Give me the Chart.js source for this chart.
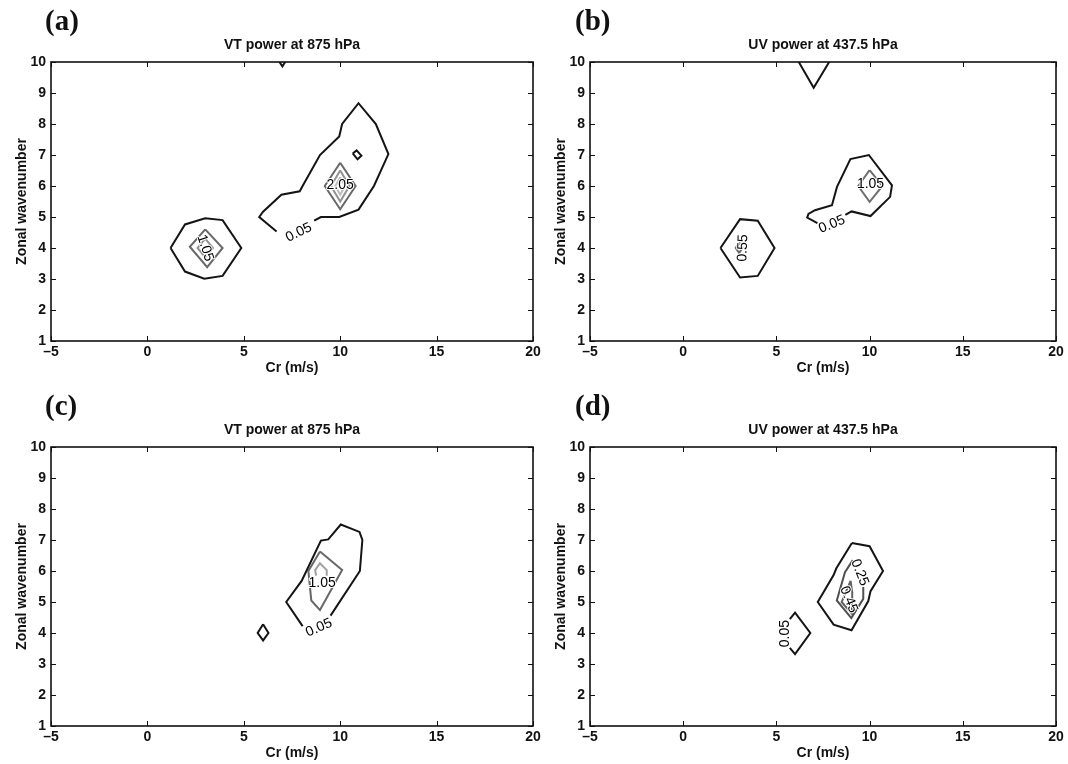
<!DOCTYPE html>
<html>
<head>
<meta charset="utf-8">
<script src="https://cdn.jsdelivr.net/npm/chart.js@4.4.0/dist/chart.umd.min.js"></script>
<style>
  body { margin: 0; background: #fff; width: 1068px; height: 764px; position: relative; overflow: hidden; }
  canvas { position: absolute; }
</style>
</head>
<body>
<canvas id="panelA" width="545" height="382" style="left:0;top:0"></canvas>
<canvas id="panelB" width="523" height="382" style="left:545px;top:0"></canvas>
<canvas id="panelC" width="545" height="379" style="left:0;top:385px"></canvas>
<canvas id="panelD" width="523" height="379" style="left:545px;top:385px"></canvas>
<script>
// axes
const xTicks = [-5, 0, 5, 10, 15, 20];
const yTicks = [1, 2, 3, 4, 5, 6, 7, 8, 9, 10];
const titles = ['VT power at 875 hPa', 'UV power at 437.5 hPa', 'VT power at 875 hPa', 'UV power at 437.5 hPa'];

// (a) contour paths, [Cr, wavenumber]
const aTopNotch = [[6.85, 10], [7, 9.86], [7.15, 10]];
const aWestRing = [[1.2, 4], [1.95, 4.76], [3, 4.96], [3.9, 4.9], [4.87, 4], [3.9, 3.1], [2.95, 3.01], [1.95, 3.24], [1.2, 4]];
const aWestMid = [[3, 4.6], [3.9, 4], [3.1, 3.38], [2.2, 4.04], [3, 4.6]];
const aWestCore = [[3, 4.3], [3.4, 4], [3, 3.7], [2.6, 4], [3, 4.3]];
const aEastBand = [[6.7, 4.53], [5.8, 5], [6, 5.17], [6.95, 5.72], [7.9, 5.83], [8.05, 6], [8.95, 7], [9.95, 7.6],
                   [10.1, 8], [10.95, 8.67], [11.85, 8], [12.5, 7.03], [11.75, 6], [10.95, 5.24], [9.95, 5], [9, 5], [8.65, 4.88]];
const aEastDot = [[10.65, 7.05], [10.85, 7.15], [11.1, 6.98], [10.9, 6.86], [10.65, 7.05]];
const aEastOuter = [[10, 6.75], [10.8, 6], [10, 5.25], [9.2, 6], [10, 6.75]];
const aEastMid = [[10, 6.5], [10.48, 6], [10, 5.5], [9.52, 6], [10, 6.5]];
const aEastCore = [[10, 6.28], [10.25, 6], [10, 5.72], [9.75, 6], [10, 6.28]];

// (b)
const bTopNotch = [[6.2, 10], [7, 9.17], [7.83, 10]];
const bWestRing = [[2, 4], [3.05, 4.93], [4, 4.88], [4.9, 4], [4, 3.1], [3.05, 3.05], [2, 4]];
const bWestCore = [[3, 4.18], [3.18, 4], [3, 3.84], [2.82, 4], [3, 4.18]];
const bEastBand = [[7.2, 4.8], [6.65, 4.98], [6.72, 5.1], [7.07, 5.22], [7.98, 5.38], [8.25, 5.97], [8.97, 6.87],
                   [9.96, 7], [11.2, 6.02], [11.1, 5.65], [10.05, 5.03], [9.03, 5.18], [8.7, 5.07]];
const bEastCore = [[10, 6.51], [10.69, 6], [10, 5.49], [9.39, 6], [10, 6.51]];

// (c)
const cDot = [[6, 4.28], [6.28, 4], [6, 3.76], [5.72, 4], [6, 4.28]];
const cBand = [[8.05, 4.22], [7.2, 5], [8, 5.68], [9, 6.98], [9.38, 7.02], [10.03, 7.5], [11, 7.26], [11.15, 7],
               [11.02, 6], [9.5, 4.56]];
const cMid = [[8.95, 6.63], [10.1, 6.03], [8.95, 4.74], [8.5, 5.05], [8.35, 6], [8.95, 6.63]];
const cCore = [[8.75, 5.85], [8.7, 6.03], [8.95, 6.25], [9.3, 6.03], [9.3, 5.85]];

// (d)
const dWestWedge = [[5.72, 4.45], [6, 4.66], [6.82, 4], [6, 3.32], [5.72, 3.52]];
const dBand = [[9.05, 6.9], [10, 6.8], [10.72, 6], [10.05, 5.35], [9.93, 5.03], [9.03, 4.09], [8.07, 4.27],
               [7.22, 5], [8.07, 5.87], [8.21, 6.08], [9.05, 6.9]];
const dMid = [[9.1, 6.35], [8.68, 5.96], [8.24, 5.05], [9.02, 4.48], [9.66, 5.1], [9.66, 5.48]];
const dCore = [[8.98, 5.68], [9.07, 5.3], [9.05, 4.62], [8.5, 5], [8.98, 5.68]];

const panels = [
  {
    id: 'panelA', letter: '(a)', title: titles[0], letterX: 45,
    axisW: 51, axisH: 41, padRight: 12, yTitlePad: 13.6, xTitlePad: 5,
    shades: { 0.05: '#141414', 1.05: '#686868', 1.55: '#929292', 2.05: '#bcbcbc' },
    lines: [[0.05, aTopNotch], [0.05, aWestRing], [1.05, aWestMid], [1.55, aWestCore],
            [0.05, aEastBand], [0.05, aEastDot], [1.05, aEastOuter], [1.55, aEastMid], [2.05, aEastCore]],
    labels: [{ level: 1.05, x: 3, y: 4, rot: 72 }, { level: 0.05, x: 7.85, y: 4.5, rot: -26 },
             { level: 2.05, x: 10, y: 6.02, rot: 0 }]
  },
  {
    id: 'panelB', letter: '(b)', title: titles[1], letterX: 30,
    axisW: 45, axisH: 41, padRight: 12, yTitlePad: 7.6, xTitlePad: 5,
    shades: { 0.05: '#141414', 0.55: '#686868', 1.05: '#707070' },
    lines: [[0.05, bTopNotch], [0.05, bWestRing], [0.55, bWestCore], [0.05, bEastBand], [1.05, bEastCore]],
    labels: [{ level: 0.55, x: 3.2, y: 4, rot: -88 }, { level: 0.05, x: 7.98, y: 4.76, rot: -22 },
             { level: 1.05, x: 10.05, y: 6.05, rot: 0 }]
  },
  {
    id: 'panelC', letter: '(c)', title: titles[2], letterX: 45,
    axisW: 51, axisH: 38, padRight: 12, yTitlePad: 13.6, xTitlePad: 2,
    shades: { 0.05: '#141414', 1.05: '#686868', 1.55: '#a0a0a0' },
    lines: [[0.05, cDot], [0.05, cBand], [1.05, cMid], [1.55, cCore]],
    labels: [{ level: 1.05, x: 9.06, y: 5.6, rot: 0 }, { level: 0.05, x: 8.9, y: 4.17, rot: -24 }]
  },
  {
    id: 'panelD', letter: '(d)', title: titles[3], letterX: 30,
    axisW: 45, axisH: 38, padRight: 12, yTitlePad: 7.6, xTitlePad: 2,
    shades: { 0.05: '#141414', 0.25: '#505050', 0.45: '#626262' },
    lines: [[0.05, dWestWedge], [0.05, dBand], [0.25, dMid], [0.45, dCore]],
    labels: [{ level: 0.05, x: 5.45, y: 3.98, rot: -90 }, { level: 0.25, x: 9.47, y: 5.95, rot: 68 },
             { level: 0.45, x: 8.88, y: 5.08, rot: 68 }]
  }
];

const sansFont = '"Liberation Sans", Arial, Helvetica, sans-serif';

// box, inward ticks, titles and inline contour labels
const contourFrame = {
  id: 'contourFrame',
  afterDatasetsDraw(chart, args, opts) {
    const { ctx, scales: { x, y } } = chart;
    ctx.save();
    ctx.font = '14px ' + sansFont;
    ctx.textAlign = 'center';
    ctx.textBaseline = 'middle';
    ctx.lineJoin = 'round';
    opts.labels.forEach(l => {
      const text = l.level.toFixed(2);
      ctx.save();
      ctx.translate(x.getPixelForValue(l.x), y.getPixelForValue(l.y));
      ctx.rotate(l.rot * Math.PI / 180);
      ctx.strokeStyle = '#fff';
      ctx.lineWidth = 2;
      ctx.strokeText(text, 0, 0);
      ctx.fillStyle = '#000';
      ctx.fillText(text, 0, 0);
      ctx.restore();
    });
    ctx.restore();
  },
  afterDraw(chart, args, opts) {
    const { ctx, chartArea: a, scales: { x, y } } = chart;
    ctx.save();
    ctx.strokeStyle = '#111';
    ctx.lineWidth = 1;
    ctx.beginPath();
    xTicks.forEach(v => {
      const px = Math.round(x.getPixelForValue(v)) + 0.5;
      ctx.moveTo(px, a.bottom); ctx.lineTo(px, a.bottom - 5);
      ctx.moveTo(px, a.top); ctx.lineTo(px, a.top + 5);
    });
    yTicks.forEach(v => {
      const py = Math.round(y.getPixelForValue(v)) + 0.5;
      ctx.moveTo(a.left, py); ctx.lineTo(a.left + 5, py);
      ctx.moveTo(a.right, py); ctx.lineTo(a.right - 5, py);
    });
    ctx.stroke();
    ctx.lineWidth = 1.6;
    ctx.strokeRect(a.left, a.top, a.right - a.left, a.bottom - a.top);

    ctx.fillStyle = '#111';
    ctx.textAlign = 'center';
    ctx.textBaseline = 'middle';
    ctx.font = 'bold 14px ' + sansFont;
    ctx.fillText(opts.title, (a.left + a.right) / 2, a.top - 17);

    ctx.textAlign = 'left';
    ctx.font = 'bold 29px "Liberation Serif", "Times New Roman", serif';
    ctx.fillText(opts.letter, opts.letterX, 23);
    ctx.restore();
  }
};

function tickText(v) {
  return v < 0 ? '\u2013' + Math.abs(v) : String(v);
}

function buildPanel(p) {
  const datasets = p.lines.map(([level, pts]) => ({
    data: pts.map(pt => ({ x: pt[0], y: pt[1] })),
    showLine: true,
    borderColor: p.shades[level],
    borderWidth: 2,
    pointRadius: 0,
    pointHoverRadius: 0,
    tension: 0,
    fill: false
  }));

  const tickFont = { family: sansFont, size: 14, weight: 'bold' };

  new Chart(document.getElementById(p.id), {
    type: 'scatter',
    data: { datasets: datasets },
    options: {
      responsive: false,
      animation: false,
      events: [],
      layout: { padding: { left: 0, top: 62, right: p.padRight, bottom: 0 } },
      plugins: {
        legend: { display: false },
        tooltip: { enabled: false },
        contourFrame: { title: p.title, letter: p.letter, letterX: p.letterX, labels: p.labels }
      },
      scales: {
        x: {
          type: 'linear', min: -5, max: 20,
          grid: { display: false, drawTicks: false, tickLength: 0 },
          border: { display: false },
          afterBuildTicks: s => { s.ticks = xTicks.map(v => ({ value: v })); },
          afterFit: s => { s.height = p.axisH; },
          ticks: { autoSkip: false, maxRotation: 0, padding: 3, color: '#111', font: tickFont, callback: tickText },
          title: { display: true, text: 'Cr (m/s)', color: '#111', font: tickFont, padding: { top: 0, bottom: p.xTitlePad } }
        },
        y: {
          type: 'linear', min: 1, max: 10,
          grid: { display: false, drawTicks: false, tickLength: 0 },
          border: { display: false },
          afterBuildTicks: s => { s.ticks = yTicks.map(v => ({ value: v })); },
          afterFit: s => { s.width = p.axisW; },
          ticks: { autoSkip: false, padding: 5, color: '#111', font: tickFont, callback: tickText },
          title: { display: true, text: 'Zonal wavenumber', color: '#111', font: tickFont, padding: { top: p.yTitlePad, bottom: 0 } }
        }
      }
    },
    plugins: [contourFrame]
  });
}

panels.forEach(buildPanel);
</script>
</body>
</html>
